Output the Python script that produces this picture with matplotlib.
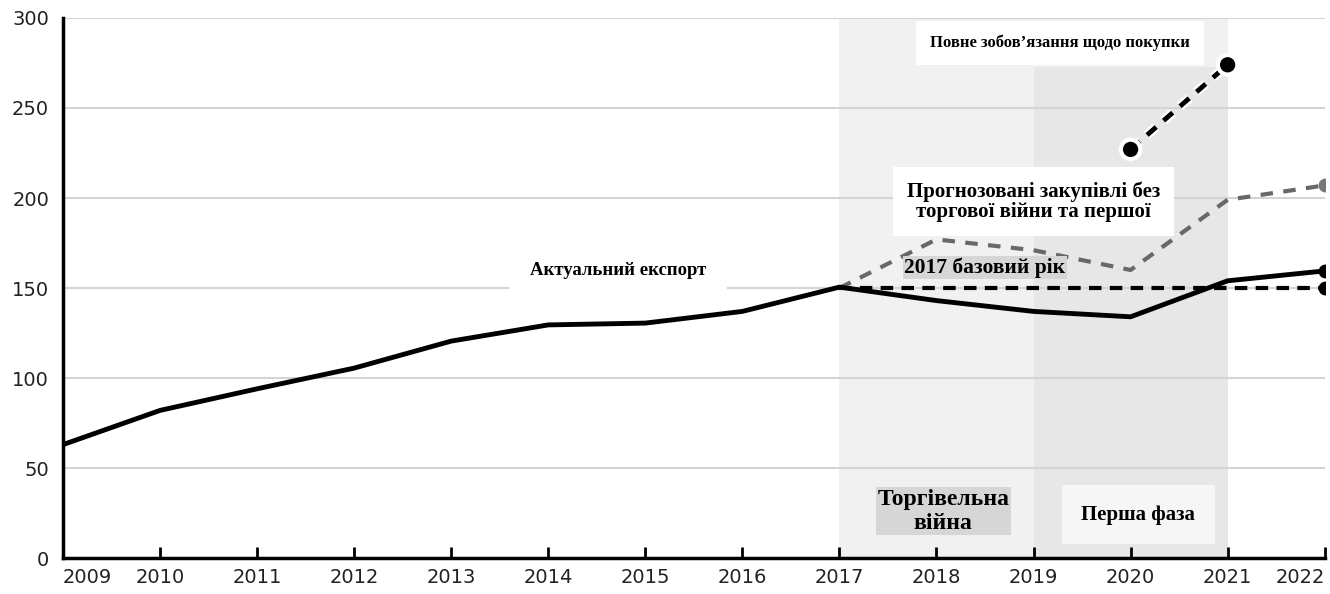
import numpy as np
import matplotlib
matplotlib.use("Agg")
import matplotlib.pyplot as plt
import matplotlib.patheffects as pe

years = [2009, 2010, 2011, 2012, 2013, 2014, 2015, 2016, 2017, 2018, 2019, 2020, 2021, 2022]
actual = [63, 82, 94, 105.5, 120.5, 129.5, 130.5, 137, 150.5, 143, 137, 134, 154, 159.5]

base_years = [2017, 2022]
base_vals = [150, 150]

proj_years = [2017, 2018, 2019, 2020, 2021, 2022]
proj_vals = [150, 177, 171, 160, 199, 207]

commit_years = [2020, 2021]
commit_vals = [227, 274]

yticks = [0, 50, 100, 150, 200, 250, 300]

serif = ["Liberation Serif", "DejaVu Serif"]

fig = plt.figure(figsize=(13.3, 5.94), dpi=100)
ax = fig.add_axes([0.0474, 0.0606, 0.9486, 0.9091])
ax.set_xlim(2009, 2022)
ax.set_ylim(0, 300)

# shaded periods
ax.axvspan(2017, 2021, color="#f1f1f1", zorder=0, lw=0)
ax.fill_between([2019, 2021], 0, 272.5, color="#e7e7e7", zorder=0.5, lw=0)

for y in yticks[1:]:
    ax.axhline(y, color="#d4d4d4", lw=1.5, zorder=1)

ax.plot(years, actual, color="black", lw=3.5, solid_capstyle="round", zorder=4)
ax.plot([2022], [actual[-1]], "o", color="black", ms=9, zorder=5)

ax.plot(base_years, base_vals, color="black", lw=3, ls=(0, (3, 2)), zorder=3)
ax.plot([2022], [150], "o", color="black", ms=9, zorder=5)

ax.plot(proj_years, proj_vals, color="#686868", lw=3, ls=(0, (3, 2.5)), zorder=3)
ax.plot([2022], [proj_vals[-1]], "o", color="#777777", ms=9, zorder=5)

ax.plot(commit_years, commit_vals, color="black", lw=3.5, ls=(0, (2.5, 2)), marker="o", ms=10,
        zorder=6, path_effects=[pe.Stroke(linewidth=7, foreground="white"), pe.Normal()])

# labels
ax.text(2014.72, 160, "Актуальний експорт", family=serif, weight="bold", fontsize=13.5,
        ha="center", va="center", bbox=dict(fc="white", ec="none", pad=15), zorder=2)
ax.text(2019.27, 286, "Повне зобов’язання щодо покупки", family=serif, weight="bold", fontsize=12,
        ha="center", va="center", bbox=dict(fc="white", ec="none", pad=10), zorder=2)
ax.text(2019.0, 198, "Прогнозовані закупівлі без\nторгової війни та першої", family=serif,
        weight="bold", fontsize=15, ha="center", va="center", linespacing=1.0,
        bbox=dict(fc="white", ec="none", pad=10), zorder=2)
ax.text(2017.67, 161.5, "2017 базовий рік", family=serif, weight="bold", fontsize=15.5,
        ha="left", va="center", bbox=dict(fc="#d6d6d6", ec="none", pad=1), zorder=7)
ax.text(2018.07, 26, "Торгівельна\nвійна", family=serif, weight="bold", fontsize=17,
        ha="center", va="center", linespacing=1.2,
        bbox=dict(fc="#d6d6d6", ec="none", pad=1), zorder=7)
ax.text(2020.08, 24, "Перша фаза", family=serif, weight="bold", fontsize=15,
        ha="center", va="center", bbox=dict(fc="#f6f6f6", ec="none", pad=14), zorder=7)

ax.set_xticks(years)
ax.set_yticks(yticks)
ax.tick_params(axis="x", direction="in", length=8, width=2, pad=7, labelsize=14, labelcolor="#222222")
ax.tick_params(axis="y", length=0, pad=10, labelsize=14, labelcolor="#222222")
xlabels = ax.get_xticklabels()
xlabels[0].set_ha("left")
xlabels[-1].set_ha("right")
for lab in xlabels + ax.get_yticklabels():
    lab.set_family(["DejaVu Sans"])

for s in ["top", "right"]:
    ax.spines[s].set_visible(False)
ax.spines["left"].set_linewidth(2.5)
ax.spines["bottom"].set_linewidth(2.5)
ax.spines["left"].set_zorder(8)
ax.spines["bottom"].set_zorder(8)

fig.savefig("out.png", dpi=100)
